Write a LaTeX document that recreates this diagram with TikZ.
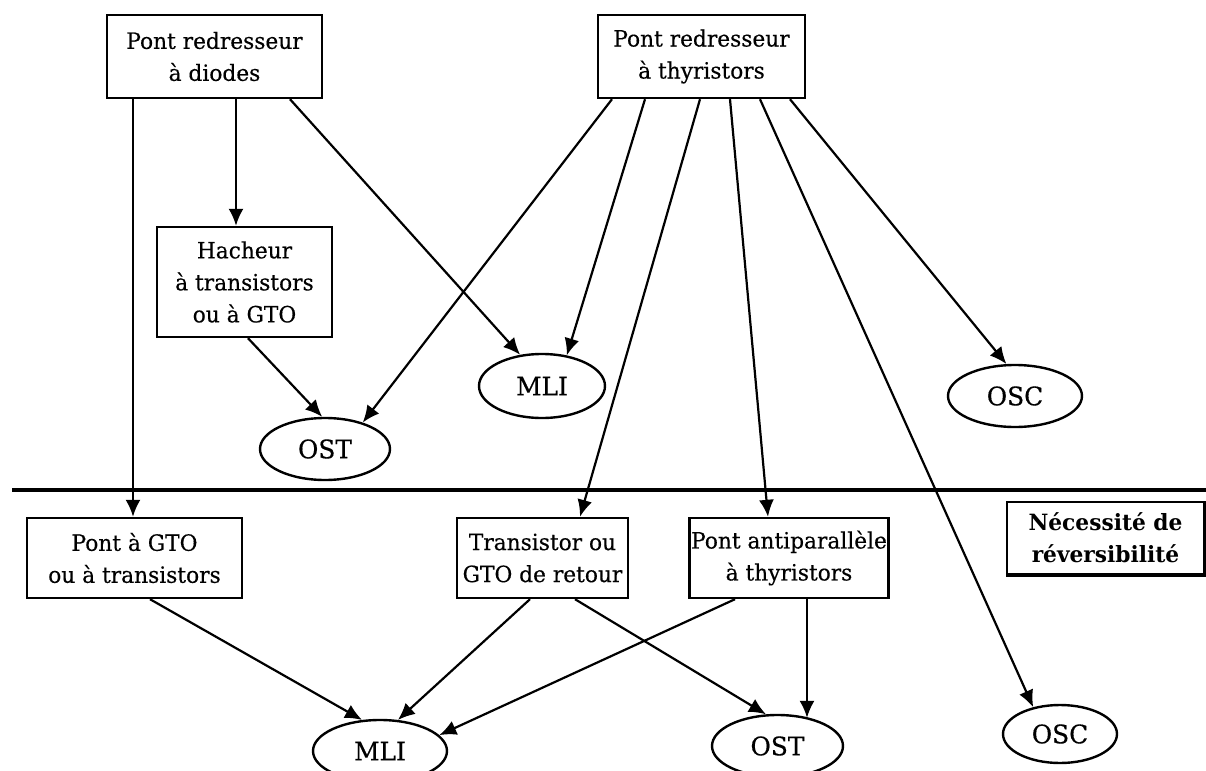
\documentclass[tikz,border=0pt]{standalone}
\usepackage{fontspec}
\setmainfont{DejaVu Serif}[FakeStretch=0.97, UprightFeatures={FakeBold=0.4}]
\usetikzlibrary{arrows.meta,shapes.geometric}

\begin{document}
\begin{tikzpicture}[x=0.5pt, y=-0.5pt, auto,
		box/.style={draw, line width=1.2pt, align=center, inner sep=0pt, font=\fontsize{11.2}{16}\selectfont},
		ell/.style={draw, ellipse, line width=1.2pt, inner sep=0pt, font=\fontsize{12.8}{16}\selectfont},
		fleche/.style={-{Latex[length=8.5pt,width=7.5pt]}, line width=1.1pt}]
			\useasboundingbox (0, 0) rectangle (1206, 771);

			\node[box, minimum width=107.5pt, minimum height=41.5pt] (diodes) at (214.5, 56.5) {Pont redresseur\\à diodes};
			\node[box, minimum width=103.5pt, minimum height=41.5pt] (thyristors) at (701.5, 56.5) {Pont redresseur\\à thyristors};
			\node[box, minimum width=87.5pt, minimum height=55pt] (hacheur) at (244.5, 282) {Hacheur\\à transistors\\ou à GTO};
			\node[ell, minimum width=65pt, minimum height=31pt] (ost1) at (325, 449) {OST};
			\node[ell, minimum width=63pt, minimum height=32pt] (mli1) at (542, 386) {MLI};
			\node[ell, minimum width=67pt, minimum height=31pt] (osc1) at (1015, 396) {OSC};

			\node[box, minimum width=107.5pt, minimum height=40pt] (gto) at (134.5, 558) {Pont à GTO\\ou à transistors};
			\node[box, minimum width=85.5pt, minimum height=40pt] (retour) at (542.5, 558) {Transistor ou\\GTO de retour};
			\node[box, minimum width=99.5pt, minimum height=40pt] (antiparallele) at (789, 558) {Pont antiparallèle\\à thyristors};
			\node[box, minimum width=98.5pt, minimum height=36pt, font=\fontsize{11.2}{16}\selectfont\bfseries] (necessite) at (1105.5, 538) {Nécessité de\\réversibilité};
			\node[ell, minimum width=67pt, minimum height=31pt] (mli2) at (380, 751) {MLI};
			\node[ell, minimum width=65.5pt, minimum height=31pt] (ost2) at (777.5, 746) {OST};
			\node[ell, minimum width=57pt, minimum height=29pt] (osc2) at (1060, 734) {OSC};

			\draw[line width=2.2pt] (necessite.north east) -- (necessite.south east) -- (necessite.south west);
			\draw[line width=2pt] (12, 490) -- (1206, 490);

			\draw[fleche] ([xshift=-40.75pt]diodes.south) -- ([xshift=-40.75pt]diodes.south |- gto.north);
			\draw[fleche] ([xshift=10.75pt]diodes.south) -- ([xshift=10.75pt]diodes.south |- hacheur.north);
			\draw[fleche] ([xshift=37.75pt]diodes.south) -- (mli1.125);
			\draw[fleche] ([xshift=1.75pt]hacheur.south) -- (ost1.95);

			\draw[fleche] ([xshift=-44.75pt]thyristors.south) -- (ost1.35);
			\draw[fleche] ([xshift=-28.25pt]thyristors.south) -- (mli1.51);
			\draw[fleche] ([xshift=-0.75pt]thyristors.south) -- ([xshift=18.75pt]retour.north);
			\draw[fleche] ([xshift=14.25pt]thyristors.south) -- ([xshift=-10.5pt]antiparallele.north);
			\draw[fleche] ([xshift=29.25pt]thyristors.south) -- (osc2.135);
			\draw[fleche] ([xshift=44.25pt]thyristors.south) -- (osc1.105);

			\draw[fleche] ([xshift=7.75pt]gto.south) -- (mli2.120);
			\draw[fleche] ([xshift=-6.25pt]retour.south) -- (mli2.60);
			\draw[fleche] ([xshift=16.25pt]retour.south) -- (ost2.110);
			\draw[fleche] ([xshift=-27pt]antiparallele.south) -- (mli2.15);
			\draw[fleche] ([xshift=9pt]antiparallele.south) -- ([xshift=9pt]antiparallele.south |- ost2.41);
	\end{tikzpicture}
\end{document}
